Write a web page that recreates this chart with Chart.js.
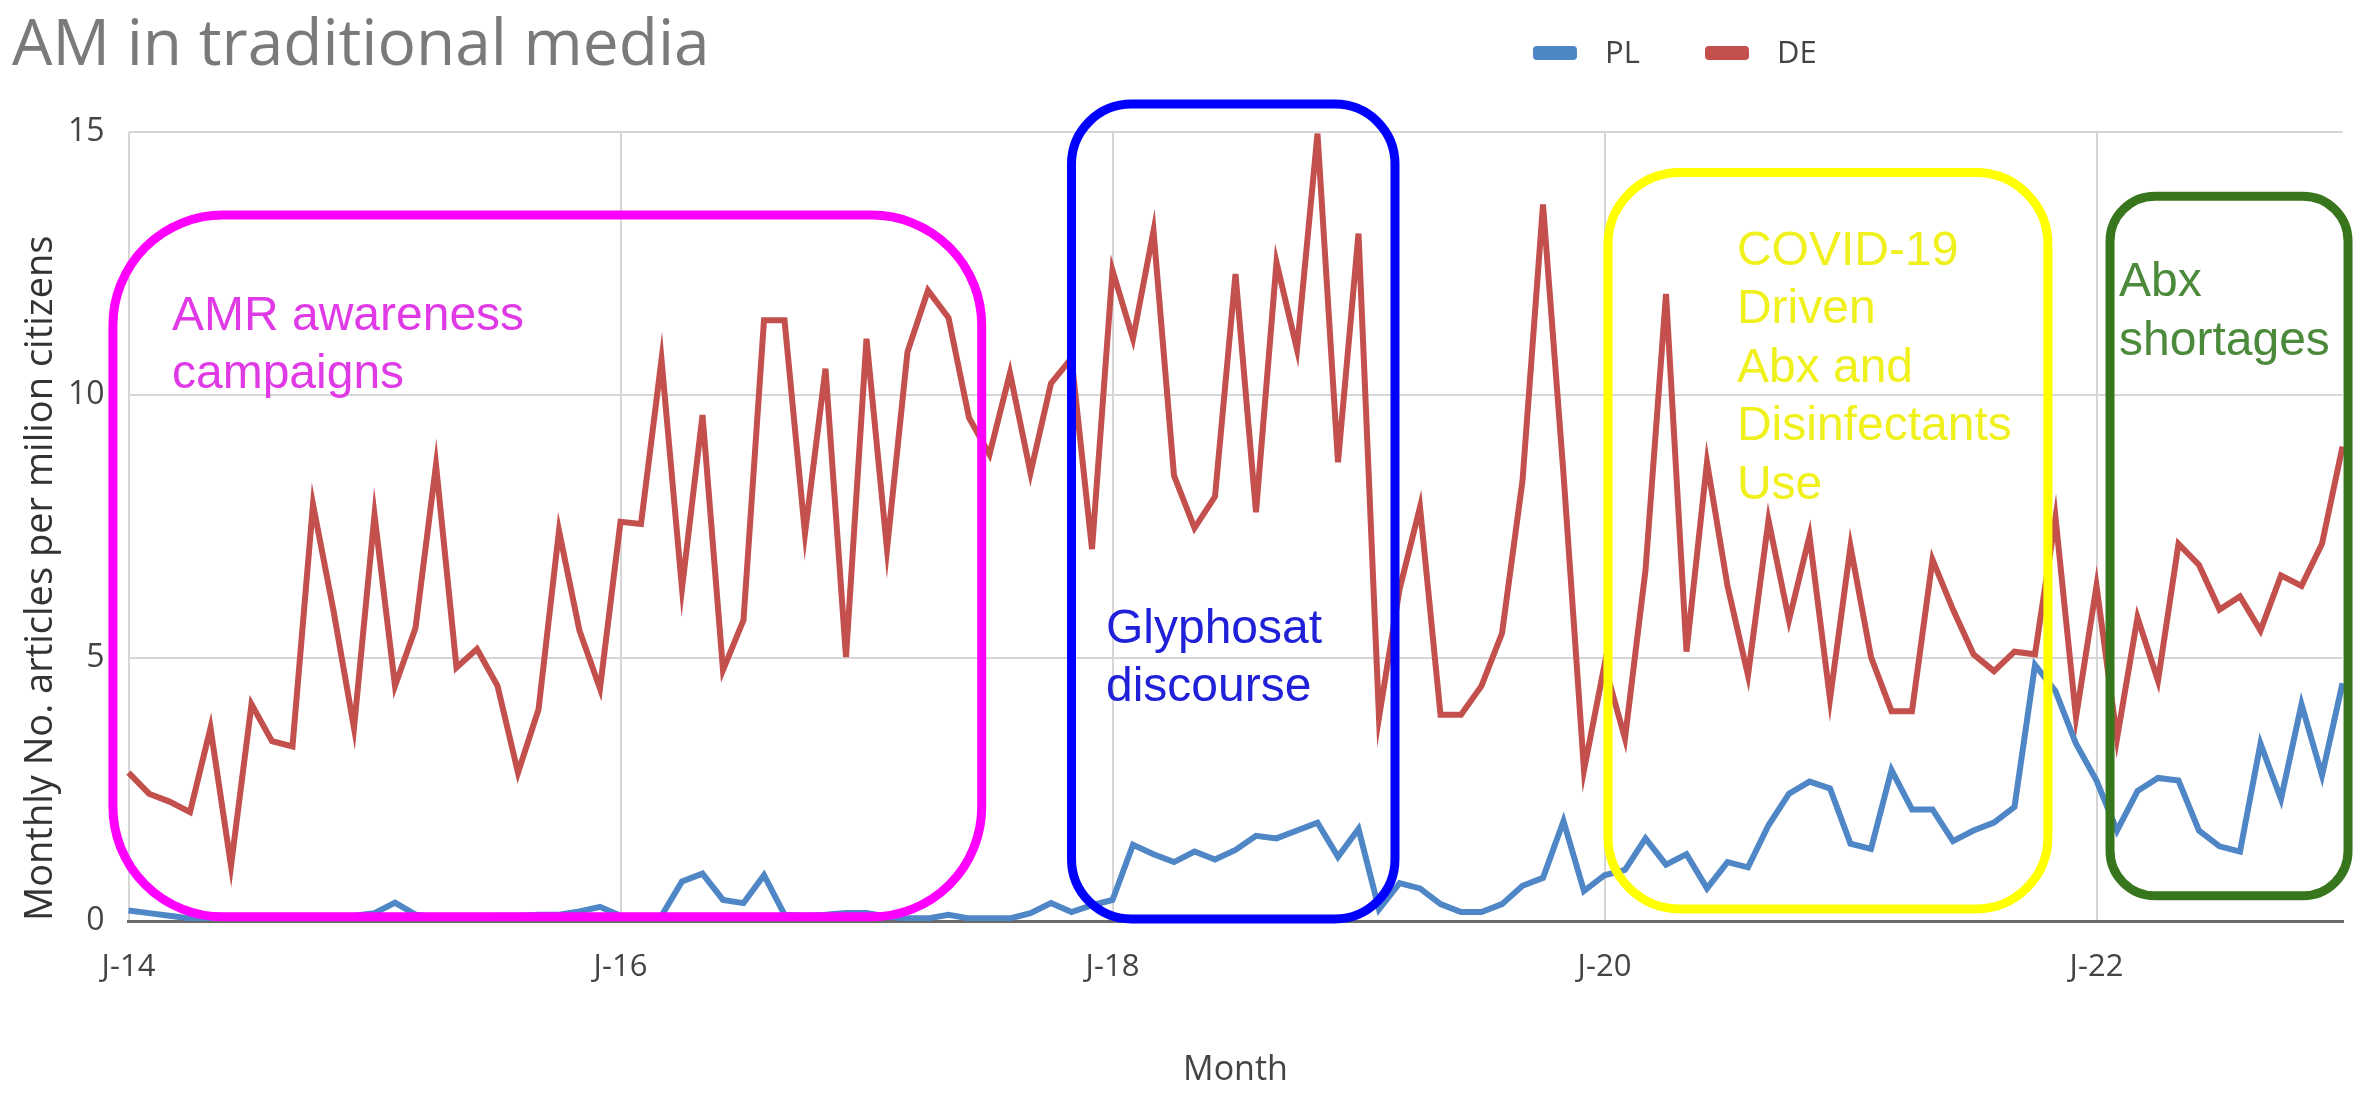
<!DOCTYPE html>
<html>
<head>
<meta charset="utf-8">
<title>AM in traditional media</title>
<script src="https://cdn.jsdelivr.net/npm/chart.js@4.4.1/dist/chart.umd.min.js"></script>
<style>
  html, body { margin: 0; padding: 0; background: #fff; }
  canvas { display: block; }
</style>
</head>
<body>
<canvas id="chart" width="2356" height="1095"></canvas>
<script>
// monthly values, Jan 2014 .. Jan 2023
const PL = [
  0.2, 0.15, 0.1, 0.05, 0.05, 0.05, 0.05, 0.05, 0.05, 0.08, 0.08, 0.1,
  0.15, 0.35, 0.12, 0.08, 0.08, 0.08, 0.1, 0.1, 0.12, 0.12, 0.18, 0.27,
  0.1, 0.05, 0.1, 0.75, 0.9, 0.4, 0.34, 0.87, 0.12, 0.1, 0.12, 0.15,
  0.15, 0.08, 0.05, 0.05, 0.12, 0.05, 0.05, 0.05, 0.15, 0.34, 0.17, 0.3,
  0.4, 1.45, 1.27, 1.12, 1.32, 1.17, 1.35, 1.62, 1.57, 1.72, 1.87, 1.22,
  1.75, 0.22, 0.72, 0.62, 0.32, 0.17, 0.17, 0.32, 0.67, 0.82, 1.9, 0.57,
  0.87, 0.97, 1.57, 1.07, 1.27, 0.62, 1.12, 1.02, 1.82, 2.42, 2.65, 2.52,
  1.47, 1.37, 2.87, 2.12, 2.12, 1.52, 1.72, 1.87, 2.17, 4.87, 4.37, 3.37,
  2.67, 1.72, 2.47, 2.72, 2.67, 1.72, 1.42, 1.32, 3.37, 2.32, 4.12, 2.77,
  4.52
];
const DE = [
  2.82, 2.42, 2.27, 2.07, 3.67, 1.05, 4.12, 3.42, 3.32, 7.92, 5.9, 3.67,
  7.72, 4.47, 5.57, 8.67, 4.82, 5.17, 4.47, 2.82, 4.02, 7.42, 5.52, 4.42,
  7.59, 7.55, 10.67, 6.32, 9.62, 4.77, 5.72, 11.42, 11.42, 7.37, 10.5, 5.02,
  11.07, 7.07, 10.82, 11.99, 11.47, 9.57, 8.87, 10.42, 8.52, 10.22, 10.7, 7.07,
  12.37, 11.07, 13.12, 8.47, 7.47, 8.07, 12.3, 7.77, 12.52, 10.87, 14.97, 8.72,
  13.07, 3.87, 6.3, 7.87, 3.92, 3.92, 4.47, 5.47, 8.37, 13.62, 8.5, 2.87,
  4.87, 3.47, 6.67, 11.92, 5.12, 8.72, 6.37, 4.67, 7.62, 5.72, 7.32, 4.22,
  7.12, 5.02, 3.99, 3.99, 6.87, 5.92, 5.07, 4.75, 5.12, 5.07, 7.67, 3.87,
  6.37, 3.47, 5.77, 4.57, 7.17, 6.77, 5.92, 6.17, 5.52, 6.57, 6.37, 7.17,
  9.02
];
const MONTH_INITIALS = ['J', 'F', 'M', 'A', 'M', 'J', 'J', 'A', 'S', 'O', 'N', 'D'];
const TICK_LABELS = ['J-14', 'J-16', 'J-18', 'J-20', 'J-22'];
const TICK_EVERY = 24;
const Y_TICKS = [0, 5, 10, 15];

// category labels like "J-14", "F-14", ...
const MONTHS = PL.map((_, i) => MONTH_INITIALS[i % 12] + '-' + (14 + Math.floor(i / 12)));

// highlighted periods (x in month index, y in axis units)
const NOTES = [
  { x1: -0.76, x2: 41.62, y1: 13.42, y2: 0.08, r: 110, box: '#ff00ff', color: '#e03ae6',
    tx: 2.12, ty: 11.24, lines: ['AMR awareness', 'campaigns'] },
  { x1: 46.0, x2: 61.78, y1: 15.53, y2: 0.04, r: 60, box: '#0000ff', color: '#2020d8',
    tx: 47.68, ty: 5.29, lines: ['Glyphosat', 'discourse'] },
  { x1: 72.17, x2: 93.63, y1: 14.23, y2: 0.23, r: 72, box: '#ffff00', color: '#f0f01c',
    tx: 78.46, ty: 12.48, lines: ['COVID-19', 'Driven', 'Abx and', 'Disinfectants', 'Use'] },
  { x1: 96.66, x2: 108.27, y1: 13.78, y2: 0.48, r: 45, box: '#38761d', color: '#4a8a3a',
    tx: 97.1, ty: 11.88, lines: ['Abx', 'shortages'] }
];

const COLORS = { pl: '#4f86c6', de: '#c4504d', grid: '#d6d6d6', axis: '#6a6a6a', text: '#444' };
const FONT = '"Open Sans", Lato, sans-serif';

/** title, legend and the annotation boxes drawn on top of the plot */
const overlayPlugin = {
  id: 'overlay',
  afterDraw(chart) {
    const ctx = chart.ctx;
    const xs = chart.scales.x;
    const ys = chart.scales.y;
    ctx.save();

    NOTES.forEach(n => {
      const left = xs.getPixelForValue(n.x1);
      const right = xs.getPixelForValue(n.x2);
      const top = ys.getPixelForValue(n.y1);
      const bottom = ys.getPixelForValue(n.y2);
      ctx.beginPath();
      ctx.roundRect(left, top, right - left, bottom - top, n.r);
      ctx.lineWidth = 9;
      ctx.strokeStyle = n.box;
      ctx.stroke();

      ctx.fillStyle = n.color;
      ctx.font = '48px "Liberation Sans", Arial, sans-serif';
      ctx.textAlign = 'left';
      ctx.textBaseline = 'alphabetic';
      const tx = xs.getPixelForValue(n.tx);
      const ty = ys.getPixelForValue(n.ty);
      n.lines.forEach((line, k) => ctx.fillText(line, tx, ty + k * 58.5));
    });

    // chart title
    ctx.fillStyle = '#7a7a7a';
    ctx.font = '64px ' + FONT;
    ctx.textAlign = 'left';
    ctx.fillText('AM in traditional media', 12, 65);

    // legend
    let lx = 1533;
    ctx.font = '31px ' + FONT;
    chart.data.datasets.forEach(ds => {
      ctx.fillStyle = ds.borderColor;
      ctx.beginPath();
      ctx.roundRect(lx, 46, 44, 14, 4);
      ctx.fill();
      ctx.fillStyle = '#444';
      ctx.textBaseline = 'middle';
      ctx.fillText(ds.label, lx + 72, 54);
      lx += 172;
    });
    ctx.restore();
  }
};

new Chart(document.getElementById('chart'), {
  type: 'line',
  data: {
    labels: MONTHS,
    datasets: [
      { label: 'PL', data: PL, borderColor: COLORS.pl, backgroundColor: COLORS.pl,
        borderWidth: 6, pointRadius: 0, tension: 0 },
      { label: 'DE', data: DE, borderColor: COLORS.de, backgroundColor: COLORS.de,
        borderWidth: 6, pointRadius: 0, tension: 0 }
    ]
  },
  options: {
    responsive: false,
    devicePixelRatio: 1,
    animation: false,
    layout: { padding: { left: 0, right: 13.5, top: 132, bottom: 0 } },
    plugins: {
      legend: { display: false },
      title: { display: false },
      tooltip: { enabled: false }
    },
    scales: {
      x: {
        type: 'category',
        afterFit(scale) { scale.height = 174; },
        grid: {
          drawTicks: true,
          tickLength: 28,
          tickColor: 'rgba(0,0,0,0)',
          lineWidth: 2,
          color: (c) => (c.index % TICK_EVERY === 0 ? COLORS.grid : 'rgba(0,0,0,0)')
        },
        border: { color: COLORS.axis, width: 3 },
        ticks: {
          autoSkip: false,
          maxRotation: 0,
          padding: 0,
          color: COLORS.text,
          font: { family: FONT, size: 31 },
          callback: (v, i) => (i % TICK_EVERY === 0 ? TICK_LABELS[i / TICK_EVERY] : '')
        },
        title: {
          display: true,
          text: 'Month',
          color: COLORS.text,
          font: { family: FONT, size: 34 },
          padding: { top: 2 }
        }
      },
      y: {
        min: 0,
        max: 15,
        afterFit(scale) { scale.width = 128.5; },
        afterBuildTicks(scale) { scale.ticks = Y_TICKS.map(v => ({ value: v })); },
        grid: { drawTicks: false, lineWidth: 2, color: COLORS.grid },
        border: { display: false },
        ticks: {
          padding: 24,
          color: COLORS.text,
          font: { family: FONT, size: 32 }
        },
        title: {
          display: true,
          align: 'start',
          text: 'Monthly No. articles per milion citizens',
          color: '#333',
          font: { family: FONT, size: 38 },
          padding: { top: 18 }
        }
      }
    }
  },
  plugins: [overlayPlugin]
});
</script>
</body>
</html>
